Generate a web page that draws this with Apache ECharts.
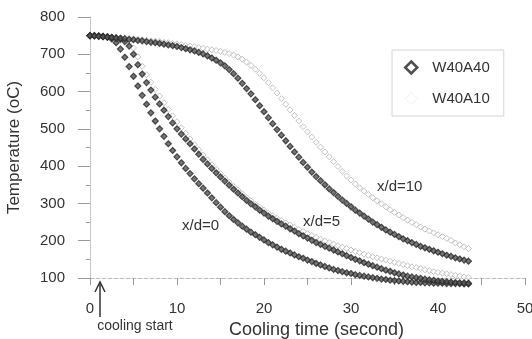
<!DOCTYPE html>
<html><head><meta charset="utf-8">
<script src="https://cdn.jsdelivr.net/npm/echarts@6/dist/echarts.min.js"></script>
<style>html,body{margin:0;padding:0;background:#fff}#c{width:532px;height:339px}</style>
</head><body><div id="c"></div>
<script>
// sampling times (s)
const time = [0,0.5,1,1.5,2,2.5,3,3.5,4,4.5,5,5.5,6,6.5,7,7.5,8,8.5,9,9.5,10,10.5,11,11.5,12,12.5,13,13.5,14,14.5,15,15.5,16,16.5,17,17.5,18,18.5,19,19.5,20,20.5,21,21.5,22,22.5,23,23.5,24,24.5,25,25.5,26,26.5,27,27.5,28,28.5,29,29.5,30,30.5,31,31.5,32,32.5,33,33.5,34,34.5,35,35.5,36,36.5,37,37.5,38,38.5,39,39.5,40,40.5,41,41.5,42,42.5,43,43.5];
// W40A40 (dark diamonds)
const w40a40_xd0 = [750,750,749,748,746,741,731,714,692,667,641,615,590,566,543,521,500,480,460,442,425,409,394,380,366,353,341,328,315,302,290,278,267,257,248,239,231,223,216,209,202,195,189,183,177,172,167,162,157,153,148,144,139,135,131,127,123,120,117,114,112,109,107,105,103,101,99,97,96,94,93,92,91,90,89,88,88,87,87,86,86,86,85,85,85,85,84,84];
const w40a40_xd5 = [750,750,749,748,747,745,743,740,734,722,700,672,647,624,604,585,567,550,533,516,500,486,473,460,446,432,418,406,394,382,371,360,349,338,328,318,308,299,291,282,274,266,259,252,245,239,232,226,219,213,207,201,195,190,185,180,175,170,165,160,155,150,146,141,137,133,129,125,121,118,114,111,108,105,103,101,99,97,95,94,92,91,90,89,88,87,87,86];
const w40a40_xd10 = [750,749,748,747,746,745,744,743,742,740,739,737,736,734,732,731,729,727,725,723,721,718,715,712,709,705,701,696,690,684,677,669,659,648,636,622,608,594,578,562,546,530,514,498,483,468,453,438,424,410,397,384,372,361,350,339,329,319,309,300,291,282,274,266,258,250,243,236,229,223,217,211,205,200,195,190,185,181,177,173,169,165,161,158,154,151,148,145];
// W40A10 (light markers)
const w40a10_xd5 = [750,750,750,749,748,747,745,743,739,732,717,693,668,645,625,606,588,570,552,535,519,503,488,473,458,444,430,417,404,392,380,368,357,346,336,326,316,307,298,290,282,274,267,260,254,248,242,236,230,225,219,214,209,204,199,195,191,187,183,179,175,171,168,164,161,157,154,151,148,145,142,139,136,133,130,128,125,122,120,117,115,113,111,109,107,105,103,102];
const w40a10_xd10 = [750,749,749,748,747,746,745,744,743,742,741,740,739,738,736,735,734,732,731,729,728,726,724,722,720,718,716,714,712,710,708,705,702,698,693,687,679,670,660,649,637,624,610,596,581,566,551,536,521,506,492,478,464,451,438,425,412,399,386,374,363,352,342,333,324,315,307,299,291,283,276,269,262,255,249,243,237,231,226,221,216,211,206,201,194,189,184,179];
const seriesNames = ['W40A40','W40A10'];
const curveLabels = ['x/d=0','x/d=5','x/d=10'];

const FONT = '"Liberation Sans", Arial, sans-serif';
const TXT = '#333';
function pairs(v){ return time.map((t,i)=>[t, v[i]]); }
const dark = {type:'scatter', name:seriesNames[0], symbol:'diamond', symbolSize:6, clip:false,
  itemStyle:{color:'#555', borderColor:'#2a2a2a', borderWidth:1.2}};
const light = {type:'scatter', name:seriesNames[1], symbol:'diamond', symbolSize:6, clip:false,
  itemStyle:{color:'#fff', borderColor:'#b4b4b4', borderWidth:1}};

const chart = echarts.init(document.getElementById('c'), null, {renderer:'canvas'});
chart.setOption({
  animation:false,
  backgroundColor:'#fff',
  grid:{left:90, right:7, top:17, bottom:61, containLabel:false, outerBoundsMode:'none'},
  xAxis:{type:'value', min:0, max:50, interval:10,
    axisLine:{show:true, lineStyle:{color:'#bbb', type:'dashed', width:1}},
    axisTick:{show:true, length:7, lineStyle:{color:'#999'}},
    minorTick:{show:true, splitNumber:2, length:7, lineStyle:{color:'#999'}},
    splitLine:{show:false},
    axisLabel:{margin:23, color:TXT, fontSize:15, fontFamily:FONT},
    name:'Cooling time (second)', nameLocation:'middle', nameGap:40,
    nameTextStyle:{color:TXT, fontSize:18, fontFamily:FONT, padding:[0,0,0,18]}},
  yAxis:{type:'value', min:100, max:800, interval:100,
    axisLine:{show:true, lineStyle:{color:'#bbb', type:'dotted', width:1}},
    axisTick:{show:true, length:12, lineStyle:{color:'#999'}},
    minorTick:{show:true, splitNumber:2, length:4, lineStyle:{color:'#999'}},
    splitLine:{show:false},
    axisLabel:{margin:25, color:TXT, fontSize:15, fontFamily:FONT},
    name:'Temperature (oC)', nameLocation:'middle', nameGap:67, nameRotate:90,
    nameTextStyle:{color:TXT, fontSize:17, fontFamily:FONT}},
  legend:{orient:'vertical', left:392, top:50, padding:[10,14,10,12], itemGap:16,
    itemWidth:12, itemHeight:12, borderColor:'#d6d6d6', borderWidth:1,
    textStyle:{fontSize:15, color:TXT, fontFamily:FONT, padding:[0,0,0,10]},
    data:[
      {name:seriesNames[0], icon:'diamond', itemStyle:{color:'#fff', borderColor:'#222', borderWidth:2.5}},
      {name:seriesNames[1], icon:'diamond', itemStyle:{color:'#fff', borderColor:'#eee', borderWidth:1}}
    ]},
  graphic:[
    {type:'line', shape:{x1:100,y1:317,x2:100,y2:283}, style:{stroke:'#333', lineWidth:1.5}},
    {type:'polyline', shape:{points:[[95,292],[100,282],[105,292]]}, style:{stroke:'#333', lineWidth:1.5, fill:null}},
    {type:'text', x:135, y:326, style:{text:'cooling start', fill:TXT, font:'14px '+FONT, align:'center', verticalAlign:'middle'}},
    {type:'text', x:182, y:226, style:{text:curveLabels[0], fill:TXT, font:'15px '+FONT, align:'left', verticalAlign:'middle'}},
    {type:'text', x:303, y:222, style:{text:curveLabels[1], fill:TXT, font:'15px '+FONT, align:'left', verticalAlign:'middle'}},
    {type:'text', x:377, y:187, style:{text:curveLabels[2], fill:TXT, font:'15px '+FONT, align:'left', verticalAlign:'middle'}}
  ],
  series:[
    Object.assign({}, light, {data:pairs(w40a10_xd5)}),
    Object.assign({}, light, {data:pairs(w40a10_xd10)}),
    Object.assign({}, dark, {data:pairs(w40a40_xd0)}),
    Object.assign({}, dark, {data:pairs(w40a40_xd5)}),
    Object.assign({}, dark, {data:pairs(w40a40_xd10)})
  ]
});
</script></body></html>
